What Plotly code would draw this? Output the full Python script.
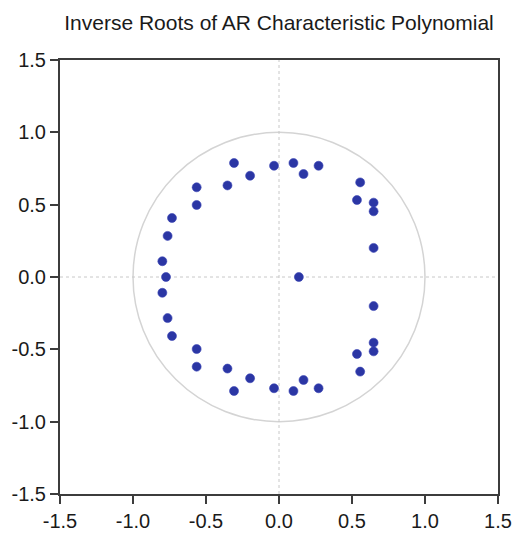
import plotly.graph_objects as go

real_parts = [-0.308, -0.034, 0.099, 0.168, 0.271, -0.198, -0.353, -0.564, -0.564,
              -0.733, -0.763, -0.799, 0.556, 0.534, 0.648, 0.648, 0.648,
              -0.308, -0.034, 0.099, 0.168, 0.271, -0.198, -0.353, -0.564, -0.564,
              -0.733, -0.763, -0.799, 0.556, 0.534, 0.648, 0.648, 0.648,
              -0.774, 0.136]
imag_parts = [0.788, 0.769, 0.788, 0.712, 0.769, 0.700, 0.633, 0.620, 0.498,
              0.408, 0.284, 0.109, 0.654, 0.532, 0.514, 0.454, 0.201,
              -0.788, -0.769, -0.788, -0.712, -0.769, -0.700, -0.633, -0.620, -0.498,
              -0.408, -0.284, -0.109, -0.654, -0.532, -0.514, -0.454, -0.201,
              0.0, 0.0]

tick_vals = [-1.5, -1.0, -0.5, 0.0, 0.5, 1.0, 1.5]
tick_text = ["-1.5", "-1.0", "-0.5", "0.0", "0.5", "1.0", "1.5"]

title_text = "Inverse Roots of AR Characteristic Polynomial"

fig = go.Figure()
fig.add_trace(go.Scatter(
    x=real_parts, y=imag_parts, mode="markers",
    marker=dict(size=9, color="#2b36a4", line=dict(width=0.6, color="#3a45b5")),
    showlegend=False, hoverinfo="x+y",
))

# unit circle and dashed zero lines
fig.add_shape(type="circle", xref="x", yref="y", x0=-1, y0=-1, x1=1, y1=1,
              line=dict(color="#d4d4d4", width=1.5), layer="below")
fig.add_shape(type="line", xref="x", yref="y", x0=0, x1=0, y0=-1.5, y1=1.5,
              line=dict(color="#c8c8c8", width=1, dash="3px,3px"), layer="below")
fig.add_shape(type="line", xref="x", yref="y", x0=-1.5, x1=1.5, y0=0, y1=0,
              line=dict(color="#c8c8c8", width=1, dash="3px,3px"), layer="below")

axis_common = dict(
    range=[-1.5, 1.5], tickmode="array", tickvals=tick_vals, ticktext=tick_text,
    showgrid=False, zeroline=False, showline=True, mirror=True, automargin=False,
    linecolor="#3c3c3c", linewidth=2, ticks="outside", ticklen=8, tickwidth=1.5,
    tickcolor="#3c3c3c", tickfont=dict(family="Liberation Sans, Arial", size=20, color="#1a1a1a"),
)

fig.update_layout(
    width=514, height=533,
    margin=dict(l=60, r=16, t=60, b=39),
    paper_bgcolor="white", plot_bgcolor="white",
    title=dict(text=title_text, x=0.5, xref="paper", y=1 - 23 / 533, yref="container",
               xanchor="center", yanchor="middle",
               font=dict(family="Liberation Sans, Arial", size=21, color="#1a1a1a")),
    xaxis=axis_common,
    yaxis=axis_common,
)

fig.write_html("out.html")
